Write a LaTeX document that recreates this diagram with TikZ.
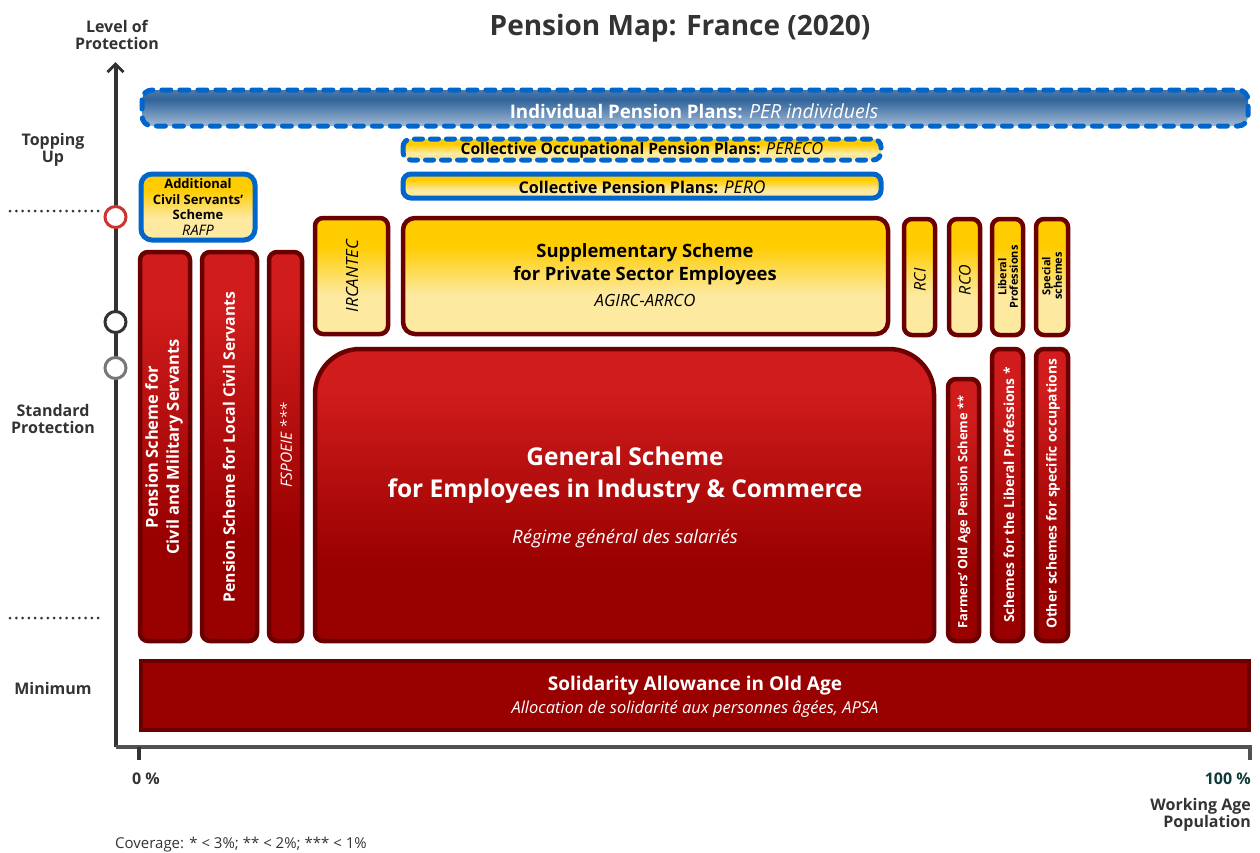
\documentclass[tikz,border=0pt]{standalone}
\usepackage{fontspec}
\setmainfont{Open Sans}
\usetikzlibrary{arrows.meta}
\definecolor{axgray}{HTML}{333333}
\definecolor{dkred}{HTML}{6B0000}
\definecolor{redT}{HTML}{D01C1C}
\definecolor{redB}{HTML}{990000}
\definecolor{yelT}{HTML}{FFCC00}
\definecolor{yelB}{HTML}{FDE9A0}
\definecolor{bluB}{HTML}{0066CC}
\definecolor{bluT}{HTML}{30639A}
\definecolor{bluL}{HTML}{A3BAD5}
\definecolor{teal}{HTML}{0D3B3B}
\definecolor{circred}{HTML}{CC3333}
\definecolor{circgray}{HTML}{777777}
\pgfdeclareverticalshading{yelshade}{100bp}{color(0bp)=(yelB); color(25bp)=(yelB); color(42bp)=(yelB); color(63bp)=(yelT); color(75bp)=(yelT); color(100bp)=(yelT)}
\pgfdeclareverticalshading{redshade}{100bp}{color(0bp)=(redB); color(25bp)=(redB); color(38bp)=(redB); color(68bp)=(redT); color(75bp)=(redT); color(100bp)=(redT)}
\pgfdeclareverticalshading{blushade}{100bp}{color(0bp)=(bluL); color(25bp)=(bluL); color(62bp)=(bluT); color(75bp)=(bluT!85!white); color(100bp)=(bluT!85!white)}
\tikzset{
  x=1pt, y=-1pt,
  redbox/.style={draw=dkred, line width=4.5pt, shading=redshade, rounded corners=8pt},
  yelbox/.style={draw=dkred, line width=4.5pt, shading=yelshade, rounded corners=8pt},
  blubox/.style={draw=bluB, line width=5pt, shading=yelshade, rounded corners=8pt},
  bludash/.style={draw=bluB, line width=5pt, line cap=round, dash pattern=on 9pt off 9pt, rounded corners=8pt},
  wtxt/.style={text=white, font=\bfseries, align=center, inner sep=0pt},
  btxt/.style={text=black, font=\bfseries, align=center, inner sep=0pt},
  axlbl/.style={text=axgray, font=\bfseries\fontsize{16}{17.5}\selectfont, align=center, inner sep=0pt},
  dotline/.style={draw=axgray, line width=3pt, line cap=round, dash pattern=on 0pt off 6.3pt},
  circ/.style={circle, draw, fill=white, line width=3pt, minimum size=21pt, inner sep=0pt}
}
\begin{document}
\begin{tikzpicture}
\useasboundingbox (0,0) rectangle (1260,852);
% title
\node[text=axgray, font=\bfseries\fontsize{28}{30}\selectfont, inner sep=0pt] (title) at (680,28) {Pension Map: France (2020)};
% axis labels
\node[axlbl] (lvl) at (117,35) {Level of\\Protection};
\node[axlbl] (top) at (53,150) {Topping\\Up};
\node[axlbl] (std) at (53,419) {Standard\\Protection};
\node[axlbl] (min) at (53,688) {Minimum};
\node[axlbl] (zero) at (146,779) {0 \%};
\node[axlbl, text=teal, anchor=east] (hund) at (1251,779) {100 \%};
\node[axlbl, anchor=east, align=right] (wap) at (1251,815) {Working Age\\Population};
\node[text=axgray, font=\fontsize{15}{16}\selectfont, anchor=west, inner sep=0pt] (cov) at (115,845) {Coverage: * < 3\%; ** < 2\%; *** < 1\%};
% axes
\coordinate (o) at (115.5,747);
\coordinate (ytop) at (115.5,62);
\coordinate (xend) at (1250,747);
\coordinate (xtick) at (1250,760);
\coordinate (t0a) at (139,747);
\coordinate (t0b) at (139,760);
\draw[axgray, line width=4pt, -{Straight Barb[length=8pt,width=16pt,line width=3pt]}] (o) -- (ytop);
\draw[axgray!85!white, line width=4pt] (o) -- (xend) -- (xtick);
\draw[axgray, line width=4pt] (t0a) -- (t0b);
% dotted level lines
\coordinate (d1a) at (10,211); \coordinate (d1b) at (104,211);
\coordinate (d2a) at (10,618); \coordinate (d2b) at (104,618);
\draw[dotline] (d1a) -- (d1b);
\draw[dotline] (d2a) -- (d2b);
% circles
\node[circ, draw=circred] (c1) at (115.5,217) {};
\node[circ, draw=axgray] (c2) at (115.5,322) {};
\node[circ, draw=circgray] (c3) at (115.5,368) {};

% Individual pension plans
\path[shading=blushade, rounded corners=10pt] (142,90) rectangle (1248,126);
\draw[bludash, rounded corners=10pt] (142,90) rectangle (1248,126);
\node[wtxt, font=\bfseries\fontsize{18.7}{20}\selectfont] (ipp) at (694,111) {Individual Pension Plans: \textmd{\itshape\fontsize{19.5}{20}\selectfont PER individuels}};
% Collective occupational
\path[shading=yelshade, rounded corners=8pt] (403,139) rectangle (881,160);
\draw[bludash, dash pattern=on 8pt off 8pt] (403,139) rectangle (881,160);
\node[btxt, font=\bfseries\fontsize{15.6}{16}\selectfont] (pereco) at (642,150.5) {Collective Occupational Pension Plans: \textmd{\itshape\fontsize{16.5}{16}\selectfont PERECO}};
% Collective pension plans
\draw[blubox] (403,174) rectangle (881,198);
\node[btxt, font=\bfseries\fontsize{16.2}{16}\selectfont] (pero) at (642,187.5) {Collective Pension Plans: \textmd{\itshape\fontsize{17.5}{16}\selectfont PERO}};
% RAFP
\draw[blubox, rounded corners=11pt] (141,174) rectangle (255,240);
\node[btxt, font=\bfseries\fontsize{13}{15.5}\selectfont] (rafp) at (198,207) {Additional\\Civil Servants'\\Scheme\\\textmd{\itshape\fontsize{14.5}{15.5}\selectfont RAFP}};

% columns
\draw[redbox] (140,252) rectangle (190,641);
\node[wtxt, rotate=90, font=\bfseries\fontsize{16.5}{21}\selectfont] (civmil) at (164,447) {Pension Scheme for\\Civil and Military Servants};
\draw[redbox] (202,252) rectangle (257,641);
\node[wtxt, rotate=90, font=\bfseries\fontsize{15.8}{20}\selectfont] (local) at (229,447) {Pension Scheme for Local Civil Servants};
\draw[redbox] (269,252) rectangle (302,641);
\node[wtxt, rotate=90, font=\itshape\fontsize{15.5}{16}\selectfont] (fsp) at (286,445) {FSPOEIE ***};

% general scheme
\draw[draw=dkred, line width=4.5pt, shading=redshade, rounded corners=8pt] (315,500) -- (315,641) -- (934,641) -- (934,500) [rounded corners=45pt] -- (934,349) -- (315,349) -- cycle;
\node[wtxt, font=\bfseries\fontsize{24.5}{32}\selectfont] (gen) at (625,475) {General Scheme\\for Employees in Industry \& Commerce};
\node[wtxt, font=\itshape\fontsize{18.5}{18}\selectfont] (regime) at (625,539) {Régime général des salariés};

% supplementary
\draw[yelbox] (315,218) rectangle (388,334);
\node[btxt, rotate=90, font=\itshape\fontsize{16.8}{16}\selectfont] (irc) at (352,276) {IRCANTEC};
\draw[yelbox, rounded corners=12pt] (403,218) rectangle (888,334);
\node[btxt, font=\bfseries\fontsize{18.4}{23}\selectfont] (supp) at (645,264) {Supplementary Scheme\\for Private Sector Employees};
\node[btxt, font=\itshape\fontsize{16.8}{16}\selectfont] (agirc) at (645,300) {AGIRC-ARRCO};

% small yellow columns
\draw[yelbox] (904,219) rectangle (935,335);
\node[btxt, rotate=90, font=\itshape\fontsize{16}{16}\selectfont] (rci) at (920,280) {RCI};
\draw[yelbox] (949,219) rectangle (980,335);
\node[btxt, rotate=90, font=\itshape\fontsize{16}{16}\selectfont] (rco) at (965,280) {RCO};
\draw[yelbox] (992,219) rectangle (1023,335);
\node[btxt, rotate=90, font=\bfseries\fontsize{11}{11.5}\selectfont] (libp) at (1008,277) {Liberal\\Professions};
\draw[yelbox] (1036,219) rectangle (1068,335);
\node[btxt, rotate=90, font=\bfseries\fontsize{11}{11.5}\selectfont] (spec) at (1052,276) {Special\\schemes};

% small red columns
\draw[redbox] (948,379) rectangle (979,641);
\node[wtxt, rotate=90, font=\bfseries\fontsize{12.8}{14}\selectfont] (farm) at (964,512) {Farmers' Old Age Pension Scheme **};
\draw[redbox] (992,349) rectangle (1023,641);
\node[wtxt, rotate=90, font=\bfseries\fontsize{13.8}{16}\selectfont] (libs) at (1009,495) {Schemes for the Liberal Professions *};
\draw[redbox] (1036,349) rectangle (1068,641);
\node[wtxt, rotate=90, font=\bfseries\fontsize{13.8}{16}\selectfont] (oth) at (1053,494) {Other schemes for specific occupations};

% solidarity
\draw[draw=dkred, line width=4.5pt, fill=redB] (141,661) rectangle (1249,730);
\node[wtxt, font=\bfseries\fontsize{19}{20}\selectfont] (sol) at (695,686) {Solidarity Allowance in Old Age};
\node[wtxt, font=\itshape\fontsize{16.5}{17}\selectfont] (apsa) at (695,709) {Allocation de solidarité aux personnes âgées, APSA};
\end{tikzpicture}
\end{document}
